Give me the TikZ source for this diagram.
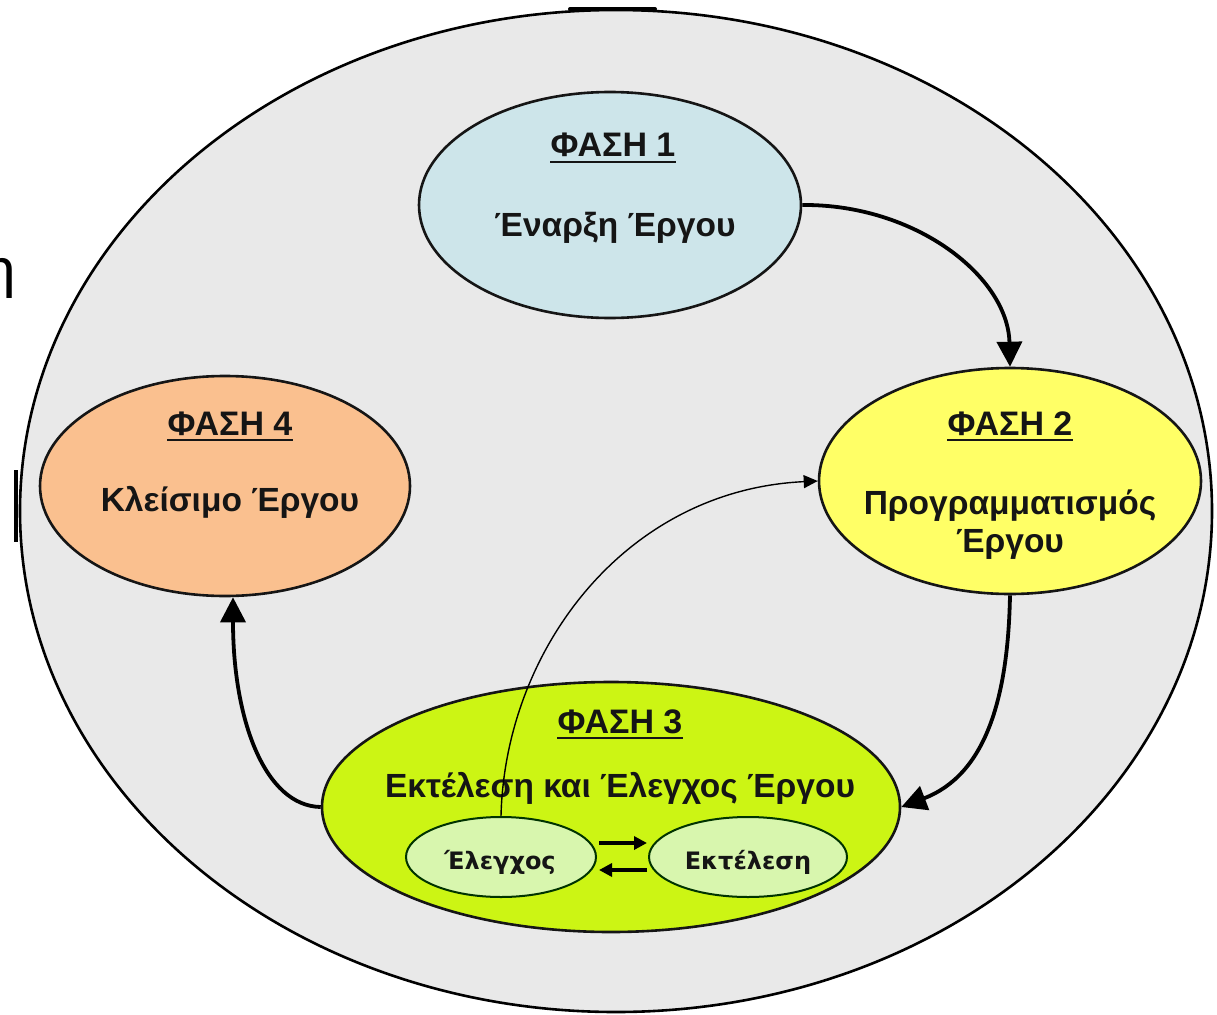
\documentclass[tikz,border=0pt]{standalone}
\usepackage{fontspec}
\setmainfont{Liberation Sans}
\newfontfamily\etafont{Carlito}
\newfontfamily\subfont{DejaVu Sans}
\usetikzlibrary{shapes.geometric,arrows.meta}

\definecolor{ringgray}{HTML}{E9E9E9}
\definecolor{startblue}{HTML}{CDE5EA}
\definecolor{planyellow}{HTML}{FFFF66}
\definecolor{closeorange}{HTML}{FAC08F}
\definecolor{execlime}{HTML}{CCF514}
\definecolor{subgreen}{HTML}{D8F6AE}
\definecolor{inkdark}{HTML}{151515}

\begin{document}
\begin{tikzpicture}[x=1pt,y=-1pt,
  phase/.style={ellipse, draw=inkdark, line width=2.6pt, inner sep=0pt},
  subphase/.style={ellipse, draw=black!80!green, line width=2pt, fill=subgreen, inner sep=0pt,
    minimum height=80pt},
  heading/.style={font=\bfseries\fontsize{34}{38}\selectfont, text=inkdark, anchor=base, inner sep=0pt},
  body/.style={font=\bfseries\fontsize{33.5}{38}\selectfont, text=inkdark, anchor=base, inner sep=0pt},
  sublabel/.style={font=\subfont\bfseries\fontsize{24}{28}\selectfont, text=inkdark, anchor=base, inner sep=0pt},
  headline/.style={line width=2.4pt, draw=inkdark},
  flow/.style={line width=3.8pt, draw=black, -{Triangle[length=25pt,width=25pt]}},
  feedback/.style={line width=1.4pt, draw=black, -{Triangle[length=14pt,width=13pt]}},
  swap/.style={line width=3.4pt, draw=black, -{Triangle[length=13pt,width=13pt]}},
]
% page frame
\useasboundingbox (0,0) rectangle (1217,1014);
\fill[white] (0,0) rectangle (1217,1014);

% fragment of slide text on the left edge
\node[font=\etafont\fontsize{62}{70}\selectfont, anchor=base west, inner sep=0pt] (eta) at (-18,288) {η};

% outer cycle
\node[ellipse, fill=ringgray, draw=black, line width=2.6pt, inner sep=0pt,
      minimum width=1192pt, minimum height=1002pt] (ring) at (616,511) {};
\draw[line width=4pt, line cap=round] (570,9) -- (655,9);
\draw[line width=3.5pt] (16,470) -- (16,542);

% phases
\node[phase, fill=startblue,   minimum width=382pt, minimum height=226pt] (p1) at (610,205) {};
\node[phase, fill=planyellow,  minimum width=382pt, minimum height=226pt] (p2) at (1010,481) {};
\node[phase, fill=closeorange, minimum width=370pt, minimum height=220pt] (p4) at (225,486) {};
\node[phase, fill=execlime,    minimum width=578pt, minimum height=250pt] (p3) at (611,807) {};

% sub-phases of phase 3
\node[subphase, minimum width=190pt] (ctl) at (501,857) {};
\node[subphase, minimum width=198pt] (run) at (748,857) {};

% texts
\node[heading] (h1) at (613,157) {ΦΑΣΗ 1};
\node[body] (b1) at (615,236) {Έναρξη Έργου};
\node[heading] (h2) at (1010,435) {ΦΑΣΗ 2};
\node[body] (b2a) at (1010,514) {Προγραμματισμός};
\node[body] (b2b) at (1010,552) {Έργου};
\node[heading] (h4) at (230,435) {ΦΑΣΗ 4};
\node[body] (b4) at (230,511) {Κλείσιμο Έργου};
\node[heading] (h3) at (620,733) {ΦΑΣΗ 3};
\node[body] (b3) at (620,797) {Εκτέλεση και Έλεγχος Έργου};
\node[sublabel] (lctl) at (500,869) {Έλεγχος};
\node[sublabel] (lrun) at (748,869) {Εκτέλεση};

% underlines of the phase titles
\foreach \h in {h1,h2,h3,h4}
  \draw[headline] ([yshift=-5pt]\h.base west) -- ([yshift=-5pt]\h.base east);

% main cycle
\draw[flow] (p1.east) .. controls (916,204) and (1008,277) .. (p2.north);
\draw[flow] (p2.south) .. controls (1008,700) and (985,775) .. (p3.east);
\draw[flow] (p3.west) .. controls (265,806) and (233,720) .. ([xshift=8pt]p4.south);

% feedback from control to planning
\draw[feedback] (ctl.north) .. controls (505,650) and (625,490) .. (p2.west);

% control <-> execution
\draw[swap] ([xshift=2pt,yshift=14pt]ctl.east) -- ([xshift=-1pt,yshift=14pt]run.west);
\draw[swap] ([xshift=-1pt,yshift=-13pt]run.west) -- ([xshift=2pt,yshift=-13pt]ctl.east);
\end{tikzpicture}
\end{document}
